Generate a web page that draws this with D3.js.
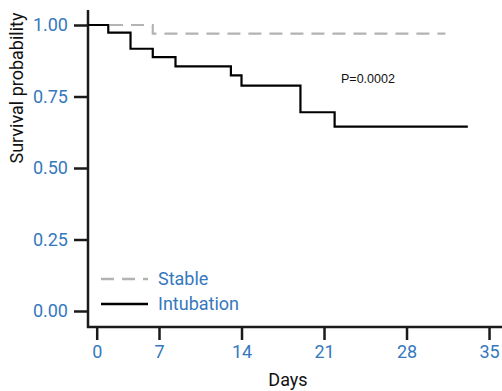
<!DOCTYPE html>
<html><head><meta charset="utf-8">
<script src="https://cdn.jsdelivr.net/npm/d3@7"></script>
<style>body{margin:0;background:#fff}svg{display:block}</style>
</head><body>
<script>
// Data
const stableTimes = [-1, 6.3, 31.3];
const stableSurv  = [1.0, 0.970, 0.970];
const intubTimes  = [-1, 1.3, 3.8, 6.3, 8.4, 13.1, 14.0, 19.0, 21.9, 33.2];
const intubSurv   = [1.0, 0.973, 0.917, 0.888, 0.855, 0.824, 0.788, 0.695, 0.645, 0.645];
const xTicks = [0, 7, 14, 21, 28, 35];
const yTicks = [0, 0.25, 0.5, 0.75, 1.0];
const seriesNames = ["Stable", "Intubation"];
const pText = "P=0.0002";

const W = 502, H = 391;
const blue = "#3578bd";
const svg = d3.select("body").append("svg").attr("width", W).attr("height", H);

const x = d3.scaleLinear().domain([-1, 0, 7, 36.1]).range([88, 96.7, 159, 502]);
const y = d3.scaleLinear().domain([0, 1]).range([311, 25]);
const yTop = 10, yBot = 327;

// axes
const yAxis = svg.append("g").attr("transform", "translate(88,0)")
  .call(d3.axisLeft(y).tickValues(yTicks).tickFormat(d3.format(".2f")).tickSize(14).tickPadding(6).tickSizeOuter(0));
const xAxis = svg.append("g").attr("transform", `translate(0,${yBot})`)
  .call(d3.axisBottom(x).tickValues(xTicks).tickSize(13).tickPadding(5).tickSizeOuter(0));
[yAxis, xAxis].forEach(g => {
  g.select(".domain").remove();
  g.selectAll(".tick line").attr("stroke", "#1a1a1a").attr("stroke-width", 2.5);
  g.selectAll(".tick text").attr("fill", blue).attr("font-family", "Roboto").attr("font-size", 18);
});
svg.append("line").attr("x1", 88).attr("x2", 88).attr("y1", yTop).attr("y2", yBot + 1)
  .attr("stroke", "#1a1a1a").attr("stroke-width", 2.5);
svg.append("line").attr("x1", 87).attr("x2", 502).attr("y1", yBot).attr("y2", yBot)
  .attr("stroke", "#1a1a1a").attr("stroke-width", 2.5);

// curves
const line = d3.line().x(d => x(d[0])).y(d => y(d[1])).curve(d3.curveStepAfter);
svg.append("path").datum(stableTimes.map((t, i) => [t, stableSurv[i]]))
  .attr("d", line).attr("fill", "none").attr("stroke", "#b3b3b3").attr("stroke-width", 2.2)
  .attr("stroke-dasharray", "13,8").attr("stroke-dashoffset", -22);
svg.append("path").datum(intubTimes.map((t, i) => [t, intubSurv[i]]))
  .attr("d", line).attr("fill", "none").attr("stroke", "#000").attr("stroke-width", 2.2);

// labels
svg.append("text").attr("transform", "translate(23,88) rotate(-90)").attr("text-anchor", "middle")
  .attr("font-family", "Roboto").attr("font-size", 18).attr("fill", "#111").text("Survival probability");
svg.append("text").attr("x", 288).attr("y", 386).attr("text-anchor", "middle")
  .attr("font-family", "Roboto").attr("font-size", 18).attr("fill", "#111").text("Days");
svg.append("text").attr("x", 341).attr("y", 83)
  .attr("font-family", "Liberation Sans, Arial").attr("font-size", 12.5).attr("fill", "#111").text(pText);

// legend
const leg = svg.append("g");
const legStyles = [{stroke: "#b3b3b3", dash: "13,8"}, {stroke: "#000", dash: null}];
seriesNames.forEach((n, i) => {
  const yy = 279 + i * 25;
  leg.append("line").attr("x1", 101).attr("x2", 148).attr("y1", yy).attr("y2", yy)
    .attr("stroke", legStyles[i].stroke).attr("stroke-width", 2.4).attr("stroke-dasharray", legStyles[i].dash);
  leg.append("text").attr("x", 158).attr("y", yy + 6).attr("font-family", "Roboto").attr("font-size", 18)
    .attr("fill", blue).text(n);
});
</script>
</body></html>
